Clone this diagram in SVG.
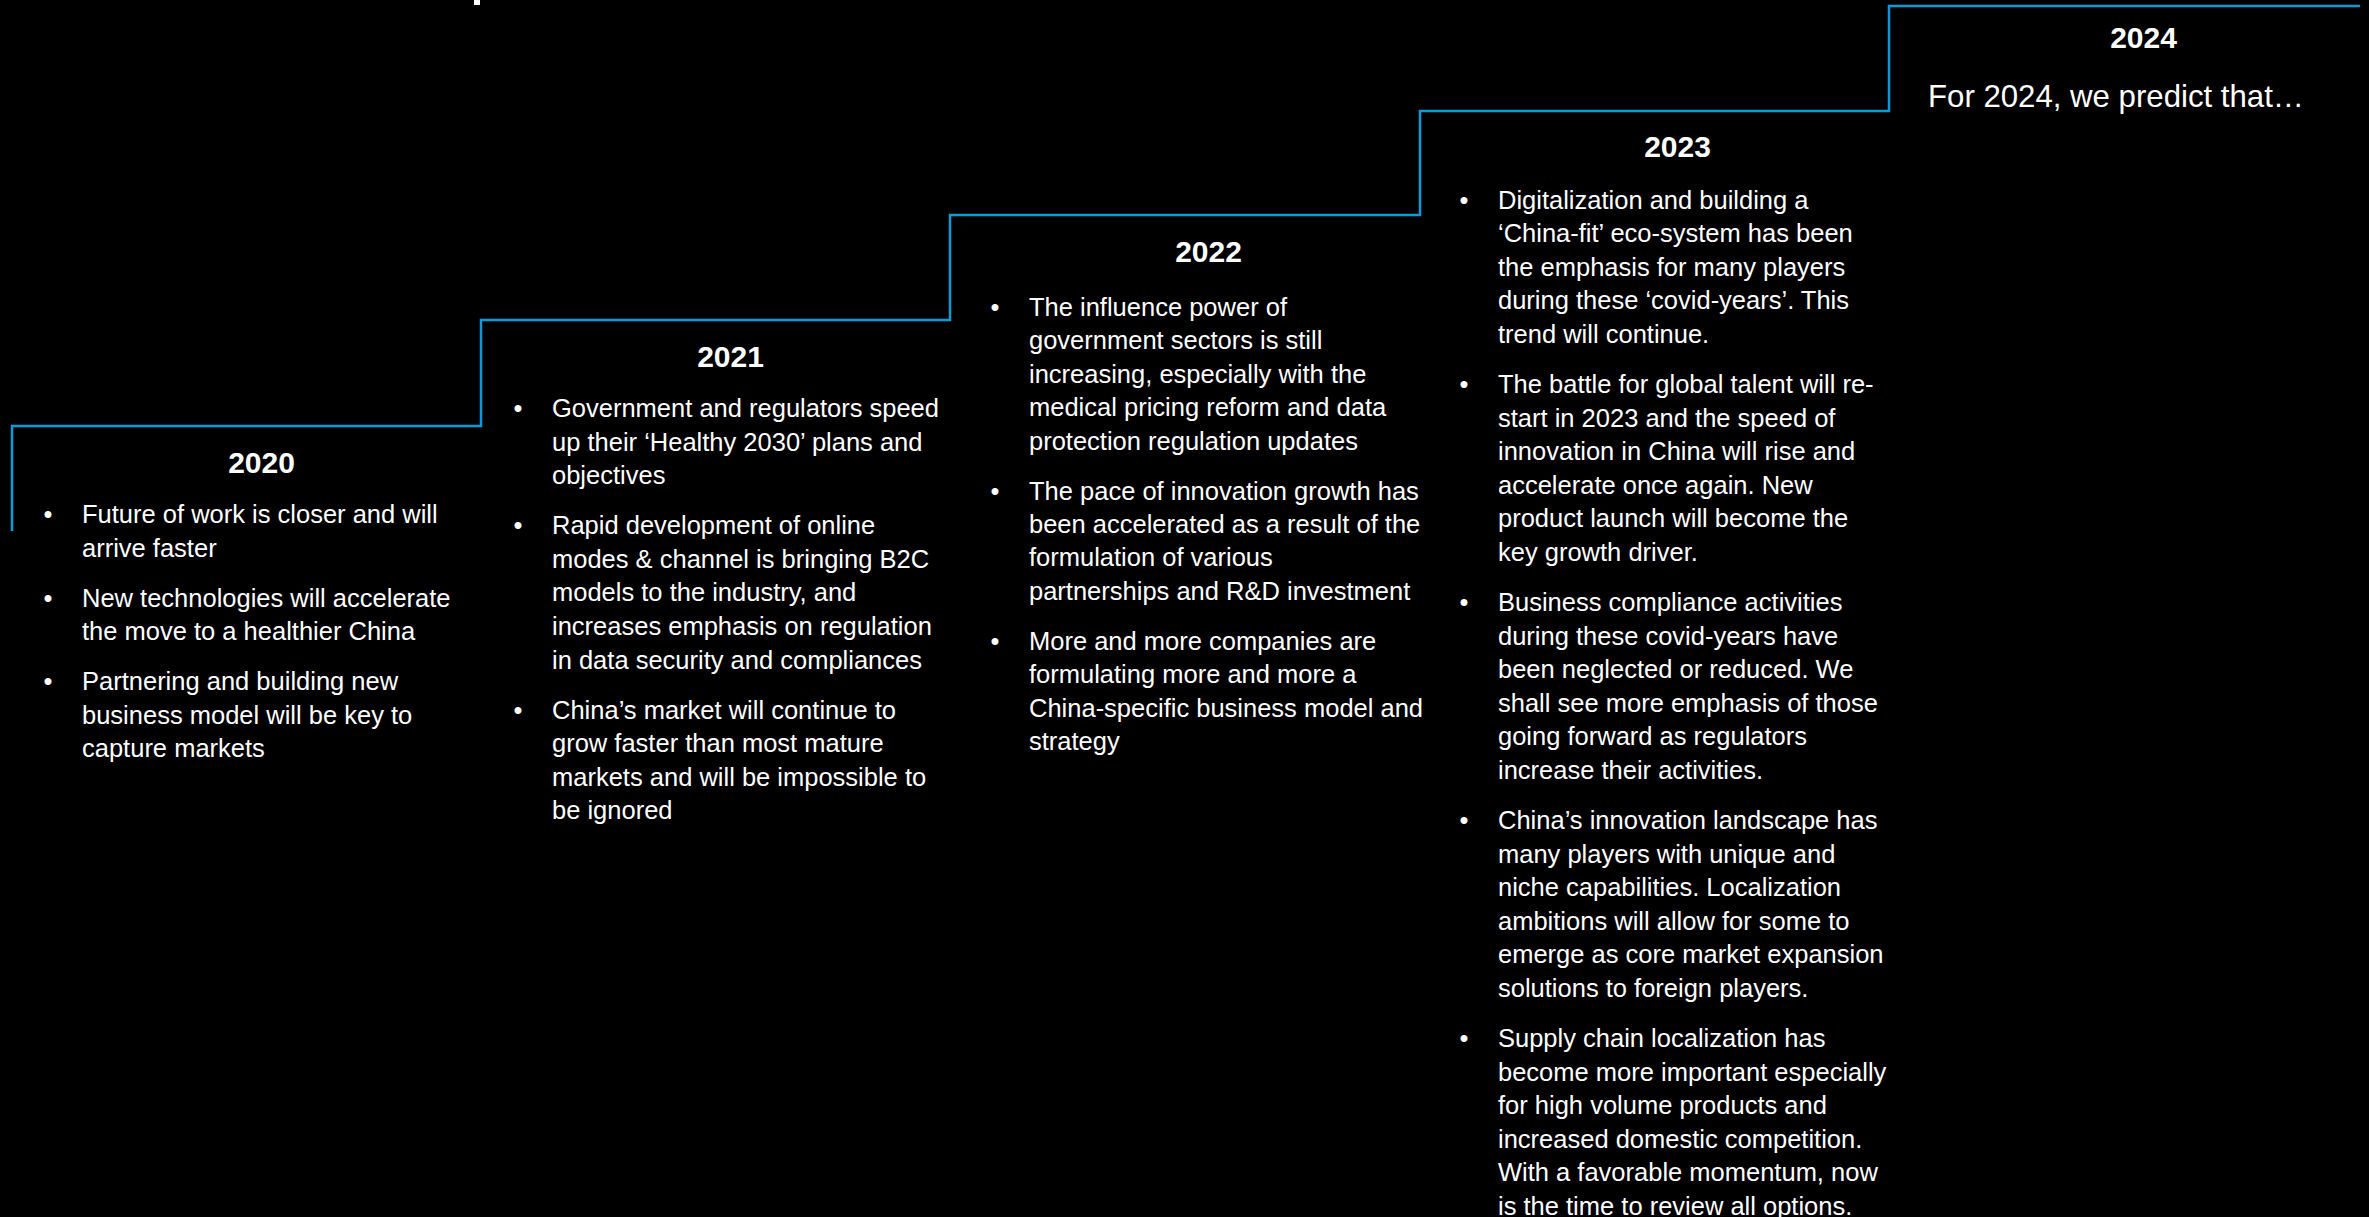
<svg xmlns="http://www.w3.org/2000/svg" width="2369" height="1217" viewBox="0 0 2369 1217">
  <style>
    .year { font-family: "Liberation Sans", Arial, sans-serif; font-weight: bold; font-size: 30px; fill: #ffffff; text-anchor: middle; }
    .body { font-family: "Liberation Sans", Arial, sans-serif; font-size: 25.5px; fill: #ffffff; }
    .dot { font-family: "Liberation Sans", Arial, sans-serif; font-size: 25.5px; fill: #ffffff; text-anchor: middle; }
    .lead { font-family: "Liberation Sans", Arial, sans-serif; font-size: 32px; fill: #ffffff; }
    .step { fill: none; stroke: #0a9ad9; stroke-width: 2.5; stroke-linejoin: miter; }
  </style>
  <rect x="0" y="0" width="2369" height="1217" fill="#000000"/>
  <!-- stub of a glyph clipped at the top edge -->
  <rect x="474" y="0" width="6" height="5" fill="#ffffff"/>

  <!-- staircase line linking the yearly columns -->
  <g id="connectors">
    <path class="step" d="M12 531 V426 H481 V320 H950 V215 H1420 V111 H1889 V6 H2360"/>
  </g>

  <g id="node-2020">
    <text class="year" x="261.5" y="473">2020</text>
    <text class="dot" x="48" y="523">•</text>
    <text class="dot" x="48" y="606.6">•</text>
    <text class="dot" x="48" y="690.2">•</text>
    <text class="body">
      <tspan x="82" y="523">Future of work is closer and will</tspan>
      <tspan x="82" y="556.6">arrive faster</tspan>
      <tspan x="82" y="606.6">New technologies will accelerate</tspan>
      <tspan x="82" y="640.2">the move to a healthier China</tspan>
      <tspan x="82" y="690.2">Partnering and building new</tspan>
      <tspan x="82" y="723.8">business model will be key to</tspan>
      <tspan x="82" y="757.4">capture markets</tspan>
    </text>
  </g>

  <g id="node-2021">
    <text class="year" x="730.5" y="367">2021</text>
    <text class="dot" x="518" y="417">•</text>
    <text class="dot" x="518" y="534.2">•</text>
    <text class="dot" x="518" y="718.6">•</text>
    <text class="body">
      <tspan x="552" y="417">Government and regulators speed</tspan>
      <tspan x="552" y="450.6">up their ‘Healthy 2030’ plans and</tspan>
      <tspan x="552" y="484.2">objectives</tspan>
      <tspan x="552" y="534.2">Rapid development of online</tspan>
      <tspan x="552" y="567.8">modes &amp; channel is bringing B2C</tspan>
      <tspan x="552" y="601.4">models to the industry, and</tspan>
      <tspan x="552" y="635">increases emphasis on regulation</tspan>
      <tspan x="552" y="668.6">in data security and compliances</tspan>
      <tspan x="552" y="718.6">China’s market will continue to</tspan>
      <tspan x="552" y="752.2">grow faster than most mature</tspan>
      <tspan x="552" y="785.8">markets and will be impossible to</tspan>
      <tspan x="552" y="819.4">be ignored</tspan>
    </text>
  </g>

  <g id="node-2022">
    <text class="year" x="1208.5" y="262">2022</text>
    <text class="dot" x="995" y="316">•</text>
    <text class="dot" x="995" y="499.6">•</text>
    <text class="dot" x="995" y="649.8">•</text>
    <text class="body">
      <tspan x="1029" y="316">The influence power of</tspan>
      <tspan x="1029" y="349.4">government sectors is still</tspan>
      <tspan x="1029" y="382.8">increasing, especially with the</tspan>
      <tspan x="1029" y="416.2">medical pricing reform and data</tspan>
      <tspan x="1029" y="449.6">protection regulation updates</tspan>
      <tspan x="1029" y="499.6">The pace of innovation growth has</tspan>
      <tspan x="1029" y="533">been accelerated as a result of the</tspan>
      <tspan x="1029" y="566.4">formulation of various</tspan>
      <tspan x="1029" y="599.8">partnerships and R&amp;D investment</tspan>
      <tspan x="1029" y="649.8">More and more companies are</tspan>
      <tspan x="1029" y="683.2">formulating more and more a</tspan>
      <tspan x="1029" y="716.6">China-specific business model and</tspan>
      <tspan x="1029" y="750">strategy</tspan>
    </text>
  </g>

  <g id="node-2023">
    <text class="year" x="1677.5" y="157">2023</text>
    <text class="dot" x="1464" y="208.5">•</text>
    <text class="dot" x="1464" y="392.9">•</text>
    <text class="dot" x="1464" y="610.9">•</text>
    <text class="dot" x="1464" y="828.9">•</text>
    <text class="dot" x="1464" y="1046.9">•</text>
    <text class="body">
      <tspan x="1498" y="208.5">Digitalization and building a</tspan>
      <tspan x="1498" y="242.1">‘China-fit’ eco-system has been</tspan>
      <tspan x="1498" y="275.7">the emphasis for many players</tspan>
      <tspan x="1498" y="309.3">during these ‘covid-years’. This</tspan>
      <tspan x="1498" y="342.9">trend will continue.</tspan>
      <tspan x="1498" y="392.9">The battle for global talent will re-</tspan>
      <tspan x="1498" y="426.5">start in 2023 and the speed of</tspan>
      <tspan x="1498" y="460.1">innovation in China will rise and</tspan>
      <tspan x="1498" y="493.7">accelerate once again. New</tspan>
      <tspan x="1498" y="527.3">product launch will become the</tspan>
      <tspan x="1498" y="560.9">key growth driver.</tspan>
      <tspan x="1498" y="610.9">Business compliance activities</tspan>
      <tspan x="1498" y="644.5">during these covid-years have</tspan>
      <tspan x="1498" y="678.1">been neglected or reduced. We</tspan>
      <tspan x="1498" y="711.7">shall see more emphasis of those</tspan>
      <tspan x="1498" y="745.3">going forward as regulators</tspan>
      <tspan x="1498" y="778.9">increase their activities.</tspan>
      <tspan x="1498" y="828.9">China’s innovation landscape has</tspan>
      <tspan x="1498" y="862.5">many players with unique and</tspan>
      <tspan x="1498" y="896.1">niche capabilities. Localization</tspan>
      <tspan x="1498" y="929.7">ambitions will allow for some to</tspan>
      <tspan x="1498" y="963.3">emerge as core market expansion</tspan>
      <tspan x="1498" y="996.9">solutions to foreign players.</tspan>
      <tspan x="1498" y="1046.9">Supply chain localization has</tspan>
      <tspan x="1498" y="1080.5">become more important especially</tspan>
      <tspan x="1498" y="1114.1">for high volume products and</tspan>
      <tspan x="1498" y="1147.7">increased domestic competition.</tspan>
      <tspan x="1498" y="1181.3">With a favorable momentum, now</tspan>
      <tspan x="1498" y="1214.9">is the time to review all options.</tspan>
    </text>
  </g>

  <g id="node-2024">
    <text class="year" x="2143.5" y="48">2024</text>
    <text class="lead" x="1928" y="107" textLength="376" lengthAdjust="spacingAndGlyphs">For 2024, we predict that…</text>
  </g>
</svg>
